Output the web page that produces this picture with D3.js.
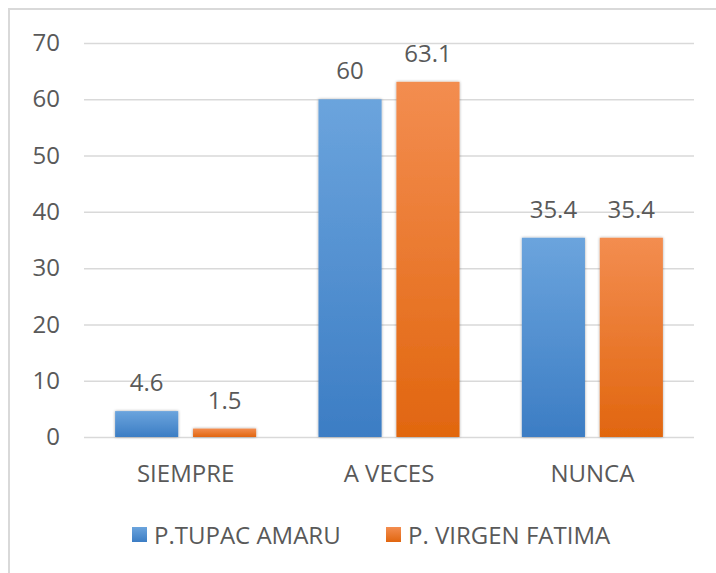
<!DOCTYPE html>
<html>
<head>
<meta charset="utf-8">
<script src="https://cdn.jsdelivr.net/npm/d3@7"></script>
<style>
  html, body { margin: 0; padding: 0; background: #fff; }
  svg { display: block; }
  text { font-family: "Open Sans", sans-serif; fill: #595959; }
</style>
</head>
<body>
<div class="d3-wrapper"></div>
<script>
// chart data
const categories = ['SIEMPRE', 'A VECES', 'NUNCA'];
const seriesNames = ['P.TUPAC AMARU', 'P. VIRGEN FATIMA'];
const tupacValues = [4.6, 60, 35.4];
const fatimaValues = [1.5, 63.1, 35.4];
const yTicks = [0, 10, 20, 30, 40, 50, 60, 70];

const WIDTH = 716, HEIGHT = 573;
const PLOT = { left: 84, right: 694, top: 43, bottom: 437 };
const FONT_SIZE = 24;

const COLORS = [
  { id: 'grad-blue', top: '#6ba4dd', bottom: '#3c7dc4' },
  { id: 'grad-orange', top: '#f38d50', bottom: '#e1660f' }
];

const rows = categories.map((c, i) => ({
  category: c,
  values: [tupacValues[i], fatimaValues[i]]
}));

const svg = d3.select('.d3-wrapper').append('svg')
  .attr('width', WIDTH)
  .attr('height', HEIGHT);

const defs = svg.append('defs');
COLORS.forEach(c => {
  const g = defs.append('linearGradient')
    .attr('id', c.id)
    .attr('x1', 0).attr('y1', 0).attr('x2', 0).attr('y2', 1);
  g.append('stop').attr('offset', '0%').attr('stop-color', c.top);
  g.append('stop').attr('offset', '100%').attr('stop-color', c.bottom);
});

const shadow = defs.append('filter')
  .attr('id', 'bar-shadow')
  .attr('x', '-20%').attr('y', '-20%').attr('width', '140%').attr('height', '140%');
shadow.append('feGaussianBlur').attr('in', 'SourceAlpha').attr('stdDeviation', 1.6).attr('result', 'blur');
shadow.append('feComponentTransfer').attr('in', 'blur').attr('result', 'soft')
  .append('feFuncA').attr('type', 'linear').attr('slope', 0.35);
const merge = shadow.append('feMerge');
merge.append('feMergeNode').attr('in', 'soft');
merge.append('feMergeNode').attr('in', 'SourceGraphic');

// frame (only top and left edges are visible in the crop)
svg.append('path')
  .attr('d', `M9,${HEIGHT} V9 H${WIDTH}`)
  .attr('fill', 'none')
  .attr('stroke', '#d9d9d9')
  .attr('stroke-width', 2);

const x0 = d3.scaleBand()
  .domain(categories)
  .range([PLOT.left, PLOT.right])
  .paddingInner(0.3065)
  .paddingOuter(0.153);

const x1 = d3.scaleBand()
  .domain([0, 1])
  .range([0, x0.bandwidth()])
  .paddingInner(0.19);

const y = d3.scaleLinear()
  .domain([0, 70])
  .range([PLOT.bottom, PLOT.top]);

// gridlines
const yAxis = d3.axisLeft(y)
  .tickValues(yTicks)
  .tickSize(-(PLOT.right - PLOT.left))
  .tickPadding(24);

const yG = svg.append('g')
  .attr('transform', `translate(${PLOT.left},0)`)
  .call(yAxis);
yG.select('.domain').remove();
yG.selectAll('.tick line').attr('stroke', '#d9d9d9').attr('stroke-width', 1.5);
yG.selectAll('.tick text')
  .style('font-size', FONT_SIZE + 'px')
  .attr('fill', '#595959')
  .attr('font-family', '"Open Sans", sans-serif');

// x axis labels
const xAxis = d3.axisBottom(x0).tickSize(0).tickPadding(28);
const xG = svg.append('g')
  .attr('transform', `translate(0,${PLOT.bottom})`)
  .call(xAxis);
xG.select('.domain').remove();
xG.selectAll('.tick text')
  .style('font-size', FONT_SIZE + 'px')
  .attr('fill', '#595959')
  .attr('font-family', '"Open Sans", sans-serif');

// bars
const groups = svg.append('g')
  .selectAll('g')
  .data(rows)
  .enter().append('g')
  .attr('transform', d => `translate(${x0(d.category)},0)`);

groups.selectAll('rect')
  .data(d => d.values.map((v, i) => ({ v, i })))
  .enter().append('rect')
  .attr('x', d => x1(d.i))
  .attr('y', d => y(d.v))
  .attr('width', x1.bandwidth())
  .attr('height', d => y(0) - y(d.v))
  .attr('fill', d => `url(#${COLORS[d.i].id})`)
  .attr('filter', 'url(#bar-shadow)');

groups.selectAll('text.label')
  .data(d => d.values.map((v, i) => ({ v, i })))
  .enter().append('text')
  .attr('class', 'label')
  .attr('x', d => x1(d.i) + x1.bandwidth() / 2)
  .attr('y', d => y(d.v) - 20)
  .attr('text-anchor', 'middle')
  .style('font-size', FONT_SIZE + 'px')
  .text(d => d.v);

// legend
const legendX = [132, 386];
const legend = svg.append('g')
  .selectAll('g')
  .data(seriesNames)
  .enter().append('g')
  .attr('transform', (d, i) => `translate(${legendX[i]},527)`);

legend.append('rect')
  .attr('width', 15)
  .attr('height', 15)
  .attr('fill', (d, i) => `url(#${COLORS[i].id})`);

legend.append('text')
  .attr('x', 22)
  .attr('y', 17)
  .style('font-size', FONT_SIZE + 'px')
  .text(d => d);
</script>
</body>
</html>
